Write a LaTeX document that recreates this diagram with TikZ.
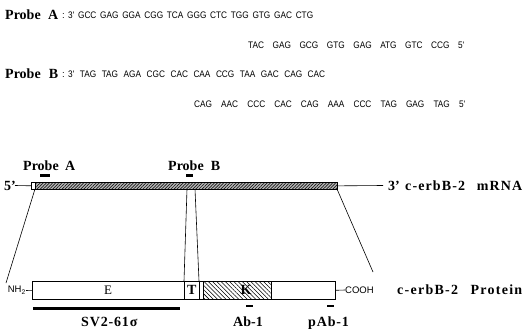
\documentclass[tikz,border=0pt]{standalone}
\usepackage{fontspec}
\usepackage{graphicx}
\setmainfont{Liberation Serif}
\newfontfamily\seqf{Liberation Sans}
\usetikzlibrary{patterns.meta}
\tikzset{
  seq/.style={inner sep=0pt, anchor=base west, font=\seqf\fontsize{9.5}{11}\selectfont},
  lbl/.style={inner sep=0pt, anchor=base west, font=\bfseries\fontsize{14}{16}\selectfont},
  small/.style={inner sep=0pt, font=\seqf\fontsize{9.5}{11}\selectfont},
  thin/.style={line width=0.6pt},
  tick/.style={line width=2.4pt},
}
% sequence line: condensed sans, words spread to a fixed width
\newcommand\sq[2]{\scalebox{0.87}[1]{\makebox[#1][s]{#2}}}
% bold label: letter spaced, words spread to a fixed width
\newcommand\lsw[3]{{\addfontfeature{LetterSpace=#2}\makebox[#1][s]{#3}}}
\begin{document}
\begin{tikzpicture}[x=1pt,y=-1pt]
\useasboundingbox (0,0) rectangle (525,332);
% sequence lines
\node[lbl] (pa) at (5,19.5) {\lsw{53pt}{0}{Probe A}};
\node[seq] (pac) at (62,18.5) {:};
\node[seq] (pa1) at (68,18.5) {\sq{281.6pt}{3' GCC GAG GGA CGG TCA GGG CTC TGG GTG GAC CTG}};
\node[seq] (pa2) at (248,48.5) {\sq{248.3pt}{TAC GAG GCG GTG GAG ATG GTC CCG 5'}};
\node[lbl] (pb) at (5,78.5) {\lsw{53pt}{0}{Probe B}};
\node[seq] (pbc) at (62,77.5) {:};
\node[seq] (pb1) at (68,77.5) {\sq{295.4pt}{3' TAG TAG AGA CGC CAC CAA CCG TAA GAC CAG CAC}};
\node[seq] (pb2) at (194,107.5) {\sq{311.5pt}{CAG AAC CCC CAC CAG AAA CCC TAG GAG TAG 5'}};
% mRNA
\coordinate (m5) at (15,185.5);
\coordinate (m3) at (383,185.5);
\node[draw, thin, fill=white, minimum width=4pt, minimum height=7pt, inner sep=0pt, anchor=north west] (utr) at (31,182) {};
\fill[gray!55] (35,182) rectangle (337,189);
\node[draw, thin, pattern={Lines[angle=45,distance=2.2pt,line width=0.7pt]}, pattern color=black!90, minimum width=302pt, minimum height=7pt, inner sep=0pt, anchor=north west] (cds) at (35,182) {};
\draw[thin] (m5) -- (utr.west);
\draw[thin] (cds.east) -- (m3);
\node[lbl] (five) at (4,190) {5'};
\node[lbl] (three) at (388,190) {3'};
\node[lbl] (mrna) at (405,190) {\lsw{117pt}{8}{c-erbB-2 mRNA}};
% probes on mRNA
\node[lbl] (pal) at (23,170.5) {\lsw{52pt}{0}{Probe A}};
\node[lbl] (pbl) at (168,170.5) {\lsw{52pt}{0}{Probe B}};
\coordinate (pa0) at (40,175.5); \coordinate (pa9) at (50,175.5);
\coordinate (pb0) at (186,175.5); \coordinate (pb9) at (193,175.5);
\draw[tick] (pa0) -- (pa9);
\draw[tick] (pb0) -- (pb9);
% protein
\node[draw, thin, minimum width=303pt, minimum height=18pt, inner sep=0pt, anchor=north west] (prot) at (32,281) {};
\node[draw, thin, minimum width=15pt, minimum height=18pt, inner sep=0pt, anchor=north west] (T) at (184,281) {};
\node[font=\bfseries\fontsize{14}{16}\selectfont, inner sep=0pt] (Tl) at (T.center) {T};
\node[draw, thin, pattern={Lines[angle=-45,distance=3pt,line width=0.6pt]}, minimum width=68pt, minimum height=18pt, inner sep=0pt, anchor=north west] (Kbox) at (203,281) {};
\node[font=\bfseries\fontsize{14}{16}\selectfont, inner sep=0pt] (K) at (246,290) {K};
\node[font=\fontsize{13}{15}\selectfont, inner sep=0pt] (E) at (108,290) {E};
\node[small, anchor=east] (nh) at (26,290.5) {NH\textsubscript{2}};
\node[small, anchor=west] (cooh) at (345,290) {COOH};
\draw[thin] (nh.east) -- (prot.west);
\draw[thin] (prot.east) -- (cooh.west);
\node[lbl] (plab) at (397,294.5) {\lsw{125pt}{9}{c-erbB-2 Protein}};
% connecting lines
\coordinate (c1) at (35,189); \coordinate (c2) at (6,283);
\coordinate (c3) at (337,189); \coordinate (c4) at (373,272);
\coordinate (c5) at (187,189); \coordinate (c6) at (184,281);
\coordinate (c7) at (195,189); \coordinate (c8) at (199,281);
\draw[thin] (c1) -- (c2);
\draw[thin] (c3) -- (c4);
\draw[thin] (c5) -- (c6);
\draw[thin] (c7) -- (c8);
% antibody marks
\coordinate (s0) at (33,308); \coordinate (s9) at (180,308);
\draw[line width=3pt] (s0) -- (s9);
\coordinate (a0) at (246,306); \coordinate (a9) at (253,306);
\draw[tick] (a0) -- (a9);
\coordinate (p0) at (327,306); \coordinate (p9) at (334,306);
\draw[tick] (p0) -- (p9);
\node[lbl] (sv) at (81,326) {{\addfontfeature{LetterSpace=6}SV2-61σ}};
\node[lbl] (ab) at (233,326) {Ab-1};
\node[lbl] (pab) at (308,326) {{\addfontfeature{LetterSpace=6}pAb-1}};
\end{tikzpicture}
\end{document}
